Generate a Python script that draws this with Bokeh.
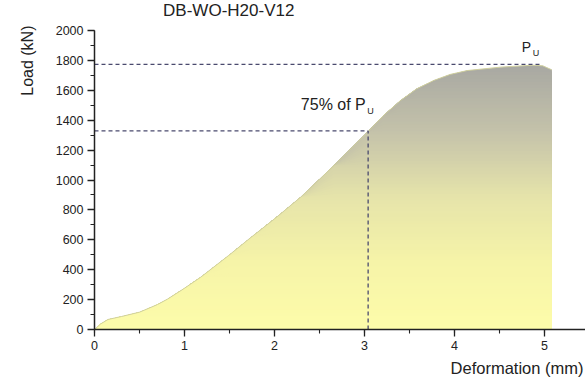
import numpy as np
from bokeh.plotting import figure
from bokeh.models import Range1d, SingleIntervalTicker, Label, Title
from bokeh.embed import file_html
from bokeh.resources import INLINE

# ---- data ----
deformation = [0, 0.07, 0.15, 0.30, 0.50, 0.70, 0.81, 0.99, 1.18, 1.49, 1.74, 2.00,
               2.20, 2.29, 2.66, 3.04, 3.21, 3.40, 3.58, 3.77, 3.95, 4.14, 4.51,
               4.87, 4.98, 5.08]
load = [0, 38, 67, 87, 116, 167, 203, 272, 350, 495, 617, 740,
        840, 885, 1097, 1324, 1431, 1532, 1610, 1666, 1706, 1732, 1755,
        1768, 1764, 1737]
x_ticks = [0, 1, 2, 3, 4, 5]
y_ticks = [0, 200, 400, 600, 800, 1000, 1200, 1400, 1600, 1800, 2000]
pu_load = 1773
pu_def = 4.95
p75_load = 1328
p75_def = 3.04
title_text = "DB-WO-H20-V12"
x_label = "Deformation (mm)"
y_label = "Load (kN)"

FONT = "Liberation Sans"
TXT = "#222222"

# frame spans the top margin too (y axis bounded at 2000) so in-frame labels can sit there
p = figure(width=585, height=383, output_backend="svg", toolbar_location=None,
           x_range=Range1d(0, 5.455), y_range=Range1d(0, 2200.7),
           min_border_left=93, min_border_right=0, min_border_top=0,
           min_border_bottom=54)
p.title.visible = False
p.outline_line_color = None
p.grid.visible = False
p.background_fill_color = "white"
p.border_fill_color = "white"

# ---- gradient-filled area (stacked clipped bands) ----
ld = np.array(load, dtype=float)
top = float(max(load))
N = 80
# gradient stops (fraction of height -> rgb)
stop_t = [0.0, 0.25, 0.5, 0.75, 1.0]
stop_r = [253, 246, 230, 196, 168]
stop_g = [252, 244, 228, 194, 168]
stop_b = [170, 168, 170, 170, 162]
zeros = [0.0] * len(deformation)
for k in range(N, 0, -1):
    lvl = top * k / N
    t = (k - 0.5) / N
    rgb = (np.interp(t, stop_t, stop_r), np.interp(t, stop_t, stop_g), np.interp(t, stop_t, stop_b))
    col = "#%02x%02x%02x" % tuple(int(round(v)) for v in rgb)
    p.varea(x=deformation, y1=zeros, y2=list(np.minimum(ld, lvl)),
            fill_color=col, fill_alpha=1.0)

p.line(deformation, load, line_color="#cfcf9e", line_width=1)

# ---- dashed reference lines ----
DASH = "#4a4a6e"
p.line([0, pu_def], [pu_load, pu_load], line_color=DASH, line_width=1.3, line_dash="4 3")
p.line([0, p75_def], [p75_load, p75_load], line_color=DASH, line_width=1.3, line_dash="4 3")
p.line([p75_def, p75_def], [0, p75_load], line_color=DASH, line_width=1.3, line_dash="4 3")

# ---- axes ----
for ax in (p.xaxis[0], p.yaxis[0]):
    ax.axis_line_color = TXT
    ax.axis_line_width = 1.5
    ax.major_tick_line_color = TXT
    ax.minor_tick_line_color = TXT
    ax.major_tick_line_width = 1.3
    ax.minor_tick_line_width = 1.1
    ax.major_tick_out = 7
    ax.major_tick_in = 0
    ax.minor_tick_out = 4
    ax.minor_tick_in = 0
    ax.major_label_text_font = FONT
    ax.major_label_text_font_size = "12.5px"
    ax.major_label_text_color = TXT
    ax.major_label_standoff = 4
p.xaxis[0].ticker = SingleIntervalTicker(interval=x_ticks[1] - x_ticks[0], num_minor_ticks=2)
p.yaxis[0].ticker = SingleIntervalTicker(interval=y_ticks[1] - y_ticks[0], num_minor_ticks=2)
p.yaxis[0].bounds = (y_ticks[0], y_ticks[-1])

# ---- axis titles (Title models live outside the frame) ----
xt = Title(text=x_label, align="right", text_font=FONT, text_font_size="16.5px",
           text_font_style="normal", text_color=TXT, standoff=8, offset=2)
p.add_layout(xt, "below")
yt = Title(text=y_label, align="right", text_font=FONT, text_font_size="16px",
           text_font_style="normal", text_color=TXT, standoff=33, offset=25)
p.add_layout(yt, "left")

# ---- in-frame texts (anchored at their middle) ----
p.add_layout(Label(x=0.762, y=2131, text=title_text, text_font=FONT,
                   text_font_size="17px", text_color=TXT, text_align="left",
                   text_baseline="middle"))
p.add_layout(Label(x=3.014, y=1503, text="75% of P", text_font=FONT,
                   text_font_size="16px", text_color=TXT, text_align="right",
                   text_baseline="middle"))
p.add_layout(Label(x=3.03, y=1462, text="U", text_font=FONT,
                   text_font_size="9px", text_color=TXT, text_align="left",
                   text_baseline="middle"))
p.add_layout(Label(x=4.747, y=1892, text="P", text_font=FONT,
                   text_font_size="14px", text_color=TXT, text_align="left",
                   text_baseline="middle"))
p.add_layout(Label(x=4.87, y=1850, text="U", text_font=FONT,
                   text_font_size="9px", text_color=TXT, text_align="left",
                   text_baseline="middle"))

open("out.html", "w").write(file_html(p, INLINE))
